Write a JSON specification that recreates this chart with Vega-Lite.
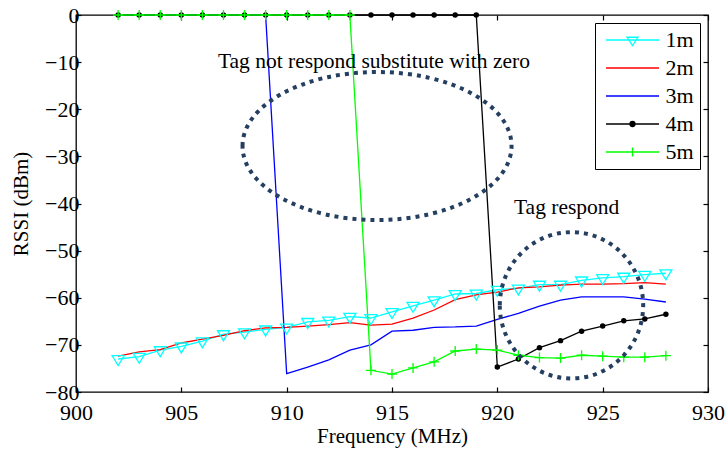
{
  "$schema": "https://vega.github.io/schema/vega-lite/v6.json",
  "width": 632,
  "height": 377,
  "autosize": {"type": "none"},
  "padding": {"left": 76, "top": 15, "right": 19, "bottom": 57},
  "background": "white",
  "config": {
    "font": "Liberation Serif",
    "view": {"stroke": "black", "strokeWidth": 1.3},
    "style": {"guide-label": {"font": "Liberation Serif"}, "guide-title": {"font": "Liberation Serif"}},
    "axis": {
      "labelFont": "Liberation Serif",
      "titleFont": "Liberation Serif",
      "labelFontSize": 22,
      "titleFontSize": 21,
      "titleFontWeight": "normal",
      "labelColor": "black",
      "titleColor": "black",
      "domainColor": "black",
      "tickColor": "black",
      "grid": false,
      "tickSize": -5,
      "tickWidth": 1.2,
      "domainWidth": 1.3
    },
    "legend": {"labelFont": "Liberation Serif"}
  },
  "datasets": {
    "rssi": [
      {"d": "1m", "f": 902, "r": -73.0}, {"d": "1m", "f": 903, "r": -72.5}, {"d": "1m", "f": 904, "r": -71.1},
      {"d": "1m", "f": 905, "r": -70.3}, {"d": "1m", "f": 906, "r": -69.2}, {"d": "1m", "f": 907, "r": -67.7},
      {"d": "1m", "f": 908, "r": -67.3}, {"d": "1m", "f": 909, "r": -66.7}, {"d": "1m", "f": 910, "r": -66.3},
      {"d": "1m", "f": 911, "r": -65.1}, {"d": "1m", "f": 912, "r": -64.8}, {"d": "1m", "f": 913, "r": -64.0},
      {"d": "1m", "f": 914, "r": -64.3}, {"d": "1m", "f": 915, "r": -63.0}, {"d": "1m", "f": 916, "r": -61.7},
      {"d": "1m", "f": 917, "r": -60.5}, {"d": "1m", "f": 918, "r": -59.2}, {"d": "1m", "f": 919, "r": -59.1},
      {"d": "1m", "f": 920, "r": -58.3}, {"d": "1m", "f": 921, "r": -58.0}, {"d": "1m", "f": 922, "r": -57.2},
      {"d": "1m", "f": 923, "r": -57.2}, {"d": "1m", "f": 924, "r": -56.3}, {"d": "1m", "f": 925, "r": -55.8},
      {"d": "1m", "f": 926, "r": -55.5}, {"d": "1m", "f": 927, "r": -55.1}, {"d": "1m", "f": 928, "r": -54.8},

      {"d": "2m", "f": 902, "r": -72.4}, {"d": "2m", "f": 903, "r": -71.5}, {"d": "2m", "f": 904, "r": -71.0},
      {"d": "2m", "f": 905, "r": -69.6}, {"d": "2m", "f": 906, "r": -68.8}, {"d": "2m", "f": 907, "r": -68.0},
      {"d": "2m", "f": 908, "r": -67.0}, {"d": "2m", "f": 909, "r": -66.4}, {"d": "2m", "f": 910, "r": -66.3},
      {"d": "2m", "f": 911, "r": -66.0}, {"d": "2m", "f": 912, "r": -65.7}, {"d": "2m", "f": 913, "r": -65.3},
      {"d": "2m", "f": 914, "r": -65.8}, {"d": "2m", "f": 915, "r": -65.6}, {"d": "2m", "f": 916, "r": -64.3},
      {"d": "2m", "f": 917, "r": -62.6}, {"d": "2m", "f": 918, "r": -60.4}, {"d": "2m", "f": 919, "r": -59.4},
      {"d": "2m", "f": 920, "r": -58.8}, {"d": "2m", "f": 921, "r": -57.9}, {"d": "2m", "f": 922, "r": -57.7},
      {"d": "2m", "f": 923, "r": -57.3}, {"d": "2m", "f": 924, "r": -57.1}, {"d": "2m", "f": 925, "r": -57.1},
      {"d": "2m", "f": 926, "r": -57.0}, {"d": "2m", "f": 927, "r": -56.8}, {"d": "2m", "f": 928, "r": -57.1},

      {"d": "3m", "f": 902, "r": 0}, {"d": "3m", "f": 903, "r": 0}, {"d": "3m", "f": 904, "r": 0},
      {"d": "3m", "f": 905, "r": 0}, {"d": "3m", "f": 906, "r": 0}, {"d": "3m", "f": 907, "r": 0},
      {"d": "3m", "f": 908, "r": 0}, {"d": "3m", "f": 909, "r": 0}, {"d": "3m", "f": 910, "r": -76.1},
      {"d": "3m", "f": 911, "r": -74.7}, {"d": "3m", "f": 912, "r": -73.2}, {"d": "3m", "f": 913, "r": -71.1},
      {"d": "3m", "f": 914, "r": -70.0}, {"d": "3m", "f": 915, "r": -67.1}, {"d": "3m", "f": 916, "r": -66.9},
      {"d": "3m", "f": 917, "r": -66.3}, {"d": "3m", "f": 918, "r": -66.2}, {"d": "3m", "f": 919, "r": -66.0},
      {"d": "3m", "f": 920, "r": -64.6}, {"d": "3m", "f": 921, "r": -63.3}, {"d": "3m", "f": 922, "r": -61.8},
      {"d": "3m", "f": 923, "r": -60.5}, {"d": "3m", "f": 924, "r": -59.8}, {"d": "3m", "f": 925, "r": -59.8},
      {"d": "3m", "f": 926, "r": -59.8}, {"d": "3m", "f": 927, "r": -60.3}, {"d": "3m", "f": 928, "r": -60.9},

      {"d": "4m", "f": 902, "r": 0}, {"d": "4m", "f": 903, "r": 0}, {"d": "4m", "f": 904, "r": 0},
      {"d": "4m", "f": 905, "r": 0}, {"d": "4m", "f": 906, "r": 0}, {"d": "4m", "f": 907, "r": 0},
      {"d": "4m", "f": 908, "r": 0}, {"d": "4m", "f": 909, "r": 0}, {"d": "4m", "f": 910, "r": 0},
      {"d": "4m", "f": 911, "r": 0}, {"d": "4m", "f": 912, "r": 0}, {"d": "4m", "f": 913, "r": 0},
      {"d": "4m", "f": 914, "r": 0}, {"d": "4m", "f": 915, "r": 0}, {"d": "4m", "f": 916, "r": 0},
      {"d": "4m", "f": 917, "r": 0}, {"d": "4m", "f": 918, "r": 0}, {"d": "4m", "f": 919, "r": 0},
      {"d": "4m", "f": 920, "r": -74.7}, {"d": "4m", "f": 921, "r": -73.0}, {"d": "4m", "f": 922, "r": -70.6},
      {"d": "4m", "f": 923, "r": -69.1}, {"d": "4m", "f": 924, "r": -67.1}, {"d": "4m", "f": 925, "r": -66.0},
      {"d": "4m", "f": 926, "r": -64.9}, {"d": "4m", "f": 927, "r": -64.5}, {"d": "4m", "f": 928, "r": -63.5},

      {"d": "5m", "f": 902, "r": 0}, {"d": "5m", "f": 903, "r": 0}, {"d": "5m", "f": 904, "r": 0},
      {"d": "5m", "f": 905, "r": 0}, {"d": "5m", "f": 906, "r": 0}, {"d": "5m", "f": 907, "r": 0},
      {"d": "5m", "f": 908, "r": 0}, {"d": "5m", "f": 909, "r": 0}, {"d": "5m", "f": 910, "r": 0},
      {"d": "5m", "f": 911, "r": 0}, {"d": "5m", "f": 912, "r": 0}, {"d": "5m", "f": 913, "r": 0},
      {"d": "5m", "f": 914, "r": -75.4}, {"d": "5m", "f": 915, "r": -76.2}, {"d": "5m", "f": 916, "r": -74.9},
      {"d": "5m", "f": 917, "r": -73.6}, {"d": "5m", "f": 918, "r": -71.3}, {"d": "5m", "f": 919, "r": -70.9},
      {"d": "5m", "f": 920, "r": -71.1}, {"d": "5m", "f": 921, "r": -72.2}, {"d": "5m", "f": 922, "r": -72.7},
      {"d": "5m", "f": 923, "r": -72.8}, {"d": "5m", "f": 924, "r": -72.2}, {"d": "5m", "f": 925, "r": -72.4},
      {"d": "5m", "f": 926, "r": -72.6}, {"d": "5m", "f": 927, "r": -72.6}, {"d": "5m", "f": 928, "r": -72.3}
    ],
    "ellipses": [
      {"name": "norespond", "f": 914.29, "r": -27.8},
      {"name": "respond", "f": 923.52, "r": -61.6}
    ],
    "notes": [
      {"text": "Tag not respond substitute with zero", "f": 914.14, "r": -10.0},
      {"text": "Tag respond", "f": 923.29, "r": -41.0}
    ]
  },
  "resolve": {"axis": {"x": "independent", "y": "independent"}},
  "layer": [
    {
      "data": {"name": "rssi"},
      "mark": {"type": "line", "strokeWidth": 1.3},
      "encoding": {
        "x": {
          "field": "f", "type": "quantitative",
          "scale": {"domain": [900, 930], "nice": false, "zero": false},
          "axis": {"orient": "bottom", "values": [900, 905, 910, 915, 920, 925, 930], "title": "Frequency (MHz)", "labelFont": "Liberation Serif", "labelFontSize": 22, "titleFont": "Liberation Serif", "labelFlush": false, "labelPadding": 15, "titlePadding": 2, "domain": false}
        },
        "y": {
          "field": "r", "type": "quantitative",
          "scale": {"domain": [-80, 0], "nice": false, "zero": false},
          "axis": {"orient": "left", "values": [-80, -70, -60, -50, -40, -30, -20, -10, 0], "title": "RSSI (dBm)", "labelFont": "Liberation Serif", "labelFontSize": 22, "titleFont": "Liberation Serif", "labelFlush": false, "labelPadding": 2, "titlePadding": 13, "domain": false}
        },
        "color": {
          "field": "d", "type": "nominal",
          "scale": {"domain": ["1m", "2m", "3m", "4m", "5m"], "range": ["#00ffff", "#ff0000", "#0000ff", "#000000", "#00ff00"]},
          "legend": {
            "title": null,
            "orient": "top-right",
            "offset": 8,
            "padding": 6,
            "strokeColor": "black",
            "fillColor": "white",
            "labelFont": "Liberation Serif",
            "labelFontSize": 22,
            "labelColor": "black",
            "symbolSize": 100,
            "symbolStrokeWidth": 1.3,
            "symbolOffset": 20.5,
            "labelOffset": 22,
            "rowPadding": 6,
            "encode": {
              "symbols": {
                "update": {
                  "shape": {"signal": "datum.value === '1m' ? 'M -5.3 0 L 5.3 0 M -1.1 -0.55 L 1.1 -0.55 L 0 1.1 Z' : (datum.value === '4m' ? 'M -5.3 0 L 5.3 0 M 0.5 0 A 0.5 0.5 0 1 1 -0.5 0 A 0.5 0.5 0 1 1 0.5 0 Z' : (datum.value === '5m' ? 'M -5.3 0 L 5.3 0 M 0 -0.9 L 0 0.9' : 'M -5.3 0 L 5.3 0'))"},
                  "fill": {"signal": "datum.value === '4m' ? 'black' : 'transparent'"}
                }
              }
            }
          }
        }
      }
    },
    {
      "data": {"name": "rssi"},
      "transform": [{"filter": "datum.d === '1m'"}],
      "mark": {"type": "point", "shape": "M -1 -0.55 L 1 -0.55 L 0 1.1 Z", "size": 144, "stroke": "#00ffff", "strokeWidth": 1.3, "filled": false, "opacity": 1},
      "encoding": {
        "x": {"field": "f", "type": "quantitative", "axis": null},
        "y": {"field": "r", "type": "quantitative", "axis": null}
      }
    },
    {
      "data": {"name": "rssi"},
      "transform": [{"filter": "datum.d === '4m'"}],
      "mark": {"type": "circle", "size": 30, "color": "black", "opacity": 1},
      "encoding": {
        "x": {"field": "f", "type": "quantitative", "axis": null},
        "y": {"field": "r", "type": "quantitative", "axis": null}
      }
    },
    {
      "data": {"name": "rssi"},
      "transform": [{"filter": "datum.d === '5m'"}],
      "mark": {"type": "point", "shape": "M -1 0 L 1 0 M 0 -1 L 0 1", "size": 100, "stroke": "#00ff00", "strokeWidth": 1.3, "filled": false, "opacity": 1},
      "encoding": {
        "x": {"field": "f", "type": "quantitative", "axis": null},
        "y": {"field": "r", "type": "quantitative", "axis": null}
      }
    },
    {
      "data": {"name": "ellipses"},
      "transform": [{"filter": "datum.name === 'norespond'"}],
      "mark": {"type": "point", "shape": "M -1 0 A 1 0.55 0 1 1 1 0 A 1 0.55 0 1 1 -1 0 Z", "size": 72361, "stroke": "#243f60", "strokeWidth": 4, "strokeDash": [4, 5], "filled": false, "opacity": 1},
      "encoding": {
        "x": {"field": "f", "type": "quantitative", "axis": {"orient": "top", "values": [900, 905, 910, 915, 920, 925, 930], "labels": false, "title": null, "domain": false}},
        "y": {"field": "r", "type": "quantitative", "axis": {"orient": "right", "values": [-80, -70, -60, -50, -40, -30, -20, -10, 0], "labels": false, "title": null, "domain": false}}
      }
    },
    {
      "data": {"name": "ellipses"},
      "transform": [{"filter": "datum.name === 'respond'"}],
      "mark": {"type": "point", "shape": "M -1 0 A 1 1.02 0 1 1 1 0 A 1 1.02 0 1 1 -1 0 Z", "size": 20564, "stroke": "#243f60", "strokeWidth": 4, "strokeDash": [4, 5], "filled": false, "opacity": 1},
      "encoding": {
        "x": {"field": "f", "type": "quantitative", "axis": null},
        "y": {"field": "r", "type": "quantitative", "axis": null}
      }
    },
    {
      "data": {"name": "notes"},
      "mark": {"type": "text", "font": "Liberation Serif", "fontSize": 21.5, "align": "center", "baseline": "middle", "color": "black"},
      "encoding": {
        "x": {"field": "f", "type": "quantitative", "axis": null},
        "y": {"field": "r", "type": "quantitative", "axis": null},
        "text": {"field": "text"}
      }
    }
  ]
}
